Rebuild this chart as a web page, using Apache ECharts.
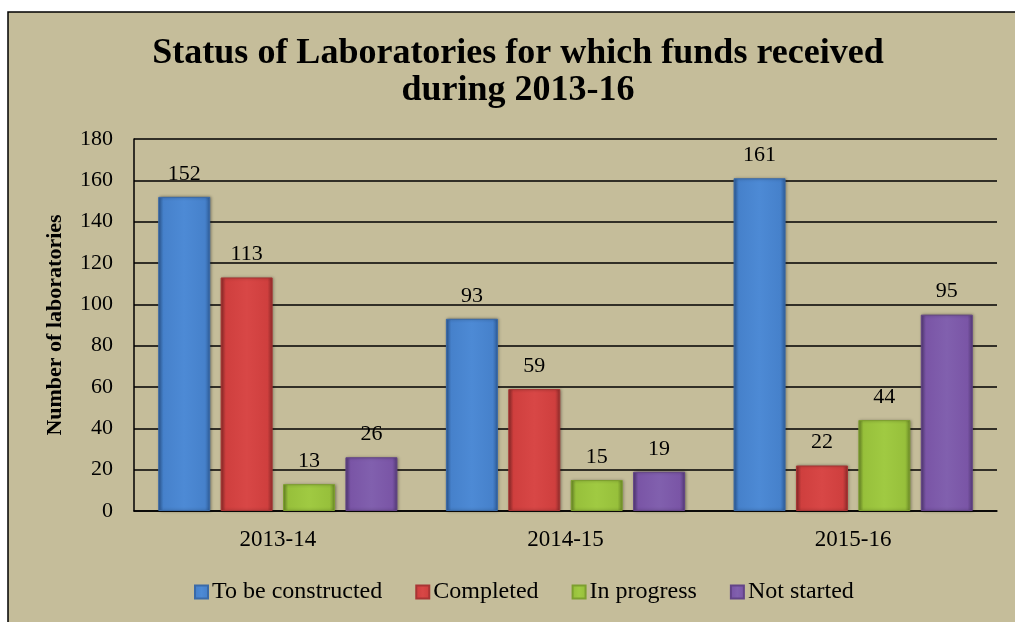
<!DOCTYPE html>
<html>
<head>
<meta charset="utf-8">
<title>Status of Laboratories</title>
<script src="https://cdn.jsdelivr.net/npm/echarts@6/dist/echarts.min.js"></script>
<style>
  html, body { margin: 0; padding: 0; background: #fff; }
  #chart { width: 1015px; height: 622px; }
</style>
</head>
<body>
<div id="chart"></div>
<script>
// data
var years = ['2013-14', '2014-15', '2015-16']
var toBeConstructed = [152, 93, 161]
var completed = [113, 59, 22]
var inProgress = [13, 15, 44]
var notStarted = [26, 19, 95]
var seriesNames = ['To be constructed', 'Completed', 'In progress', 'Not started']

var serif = "'Times New Roman', 'Liberation Serif', serif"

// bevel-ish look: darker edges, lighter body
function bevel (edge, body, light) {
  return {
    type: 'linear', x: 0, y: 0, x2: 1, y2: 0,
    colorStops: [
      { offset: 0, color: edge },
      { offset: 0.1, color: body },
      { offset: 0.5, color: light },
      { offset: 0.9, color: body },
      { offset: 1, color: edge }
    ]
  }
}

var colors = [
  bevel('#2e5c98', '#4681cb', '#4d8ad5'),
  bevel('#8e2b2a', '#cf3f3e', '#d84746'),
  bevel('#6b8a26', '#97c03b', '#a0ca42'),
  bevel('#553b78', '#7a55a6', '#8160ae')
]
var borders = ['#3a6aa8', '#a83534', '#7d9f2f', '#634487']

function makeSeries (name, values, i) {
  return {
    name: name,
    type: 'bar',
    data: values,
    barWidth: 52,
    barGap: '20%',
    itemStyle: {
      color: colors[i],
      borderColor: borders[i],
      borderWidth: 1,
      shadowColor: 'rgba(0,0,0,0.35)',
      shadowBlur: 3,
      shadowOffsetX: 1
    },
    label: {
      show: true,
      position: 'top',
      distance: 12,
      color: '#000',
      fontFamily: serif,
      fontSize: 22
    }
  }
}

var chart = echarts.init(document.getElementById('chart'))
chart.setOption({
  backgroundColor: '#fff',
  animation: false,
  graphic: [{
    type: 'rect',
    z: -10,
    silent: true,
    shape: { x: 8, y: 12, width: 1020, height: 620 },
    style: { fill: '#c5bd9a', stroke: '#000', lineWidth: 1.5 }
  }],
  title: {
    text: 'Status of Laboratories for which funds received\nduring 2013-16',
    left: 513,
    top: 30,
    textAlign: 'center',
    textStyle: {
      fontFamily: serif,
      fontWeight: 'bold',
      fontSize: 36,
      lineHeight: 37,
      color: '#000'
    }
  },
  legend: {
    data: seriesNames,
    left: 194,
    top: 580,
    padding: 0,
    itemWidth: 13,
    itemHeight: 13,
    itemGap: 33,
    icon: 'rect',
    textStyle: { fontFamily: serif, fontSize: 24, color: '#000', padding: [0, 0, 0, -1] }
  },
  grid: { left: 134, right: 18, top: 139, bottom: 111 },
  xAxis: {
    type: 'category',
    data: years,
    axisLine: { lineStyle: { color: '#000', width: 1.5 } },
    axisTick: { show: false },
    axisLabel: { color: '#000', fontFamily: serif, fontSize: 23, margin: 17 }
  },
  yAxis: {
    type: 'value',
    min: 0,
    max: 180,
    interval: 20,
    name: 'Number of laboratories',
    nameLocation: 'middle',
    nameGap: 68,
    nameTextStyle: { fontFamily: serif, fontWeight: 'bold', fontSize: 22, color: '#000' },
    axisLine: { show: true, lineStyle: { color: '#000', width: 1.5 } },
    axisTick: { show: false },
    splitLine: { lineStyle: { color: '#000', width: 1.5 } },
    axisLabel: { color: '#000', fontFamily: serif, fontSize: 22, margin: 21 }
  },
  series: [
    makeSeries(seriesNames[0], toBeConstructed, 0),
    makeSeries(seriesNames[1], completed, 1),
    makeSeries(seriesNames[2], inProgress, 2),
    makeSeries(seriesNames[3], notStarted, 3)
  ]
})
</script>
</body>
</html>
